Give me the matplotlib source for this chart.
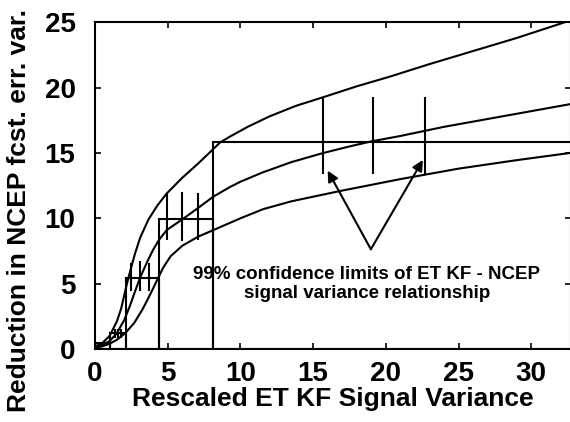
import matplotlib
matplotlib.use("Agg")
import matplotlib.pyplot as plt

plt.rcParams['font.family'] = ['Liberation Sans', 'DejaVu Sans']
plt.rcParams['font.weight'] = 'bold'

# bins of rescaled ET KF signal variance and mean reduction in each
bin_left = [0.0, 1.03, 2.1, 4.4, 8.14]
bin_width = [1.03, 1.07, 2.3, 3.74, 30.0]
bin_mean = [0.45, 1.2, 5.46, 9.93, 15.87]

# confidence bars within bins
bar_x = [1.35, 1.57, 1.8, 2.5, 3.1, 3.7, 4.93, 5.95, 7.11, 15.67, 19.1, 22.7]
bar_lo = [0.85, 0.85, 0.85, 4.4, 4.4, 4.4, 8.35, 8.3, 8.35, 13.4, 13.4, 13.4]
bar_hi = [1.55, 1.55, 1.55, 6.6, 6.7, 6.6, 11.97, 12.0, 11.97, 19.3, 19.3, 19.3]

# fitted relationship (upper limit, centre, lower limit)
upper_x = [0, 0.5, 1.0, 1.5, 1.8, 2.09, 2.3, 2.55, 2.75, 3.1, 3.67, 4.3, 4.93, 6.0, 7.1,
           8.6, 9.29, 10.5, 12.0, 13.8, 15.7, 18.0, 20.3, 23.0, 26.0, 29.0, 32.3, 33.0]
upper_y = [0.2, 0.45, 1.0, 2.1, 3.1, 4.5, 5.46, 6.5, 7.3, 8.5, 9.9, 11.0, 11.9, 13.1, 14.2,
           15.8, 16.26, 17.0, 17.8, 18.6, 19.27, 20.1, 20.85, 21.8, 22.8, 23.8, 25.0, 25.25]

mid_x = [0, 0.5, 1.0, 1.5, 2.0, 2.4, 2.75, 3.1, 3.6, 4.0, 4.4, 4.93, 5.98, 7.1, 8.14,
         9.29, 10.0, 11.5, 13.5, 15.7, 17.5, 19.06, 21.0, 24.0, 27.0, 30.0, 33.0]
mid_y = [0.15, 0.3, 0.6, 1.2, 2.2, 3.3, 4.4, 5.46, 6.7, 7.6, 8.35, 9.1, 9.9, 10.8, 11.66,
         12.4, 12.8, 13.5, 14.3, 15.0, 15.5, 15.9, 16.3, 17.0, 17.6, 18.2, 18.8]

low_x = [0, 0.5, 1.0, 1.5, 2.07, 2.7, 3.3, 3.85, 4.35, 4.7, 5.2, 6.0, 7.1, 8.14, 10.0, 11.56,
         13.5, 16.9, 21.0, 25.0, 29.0, 33.0]
low_y = [0.1, 0.2, 0.4, 0.7, 1.2, 2.0, 3.1, 4.3, 5.46, 6.25, 7.1, 7.9, 8.6, 9.1, 10.0, 10.7,
         11.3, 12.1, 13.0, 13.8, 14.45, 15.05]


def main():
    fig = plt.figure(figsize=(5.7, 4.22), dpi=100)
    ax = fig.add_axes([0.1667, 0.1730, 0.8342, 0.7742])

    ax.bar(bin_left, bin_mean, width=bin_width, align='edge', fill=False,
           edgecolor='black', linewidth=1.5)
    ax.vlines(bar_x, bar_lo, bar_hi, color='black', linewidth=1.5)
    ax.plot(upper_x, upper_y, color='black', linewidth=1.5)
    ax.plot(mid_x, mid_y, color='black', linewidth=1.5)
    ax.plot(low_x, low_y, color='black', linewidth=1.5)

    format_plot(ax)
    fig.savefig("out.png", dpi=100)


def format_plot(ax):
    ax.set_xlim(0, 32.7)
    ax.set_ylim(0, 25)
    ax.set_xticks([0, 5, 10, 15, 20, 25, 30])
    ax.set_yticks([0, 5, 10, 15, 20, 25])
    ax.tick_params(direction='in', length=4, width=1.2, top=True, right=True,
                   labelsize=20)
    ax.tick_params(axis='x', pad=9)
    ax.tick_params(axis='y', pad=14)
    for lab in ax.get_xticklabels() + ax.get_yticklabels():
        lab.set_fontweight('bold')
    for s in ax.spines.values():
        s.set_linewidth(1.5)
    ax.set_xlabel("Rescaled ET KF Signal Variance", fontsize=19, fontweight='bold',
                  labelpad=0)
    ax.set_ylabel("Reduction in NCEP fcst. err. var.", fontsize=19, fontweight='bold')
    ax.yaxis.set_label_coords(-0.135, 0.425)

    ax.text(18.7, 4.98, "99% confidence limits of ET KF - NCEP\nsignal variance relationship",
            ha='center', va='center', fontsize=13.5, fontweight='bold', linespacing=1.1)
    for tip in [(16.0, 13.65), (22.55, 14.47)]:
        ax.annotate("", xy=tip, xytext=(18.97, 7.63),
                    arrowprops=dict(arrowstyle='-|>', color='black', lw=1.5,
                                    mutation_scale=16, shrinkA=0, shrinkB=0))


if __name__ == "__main__":
    main()
